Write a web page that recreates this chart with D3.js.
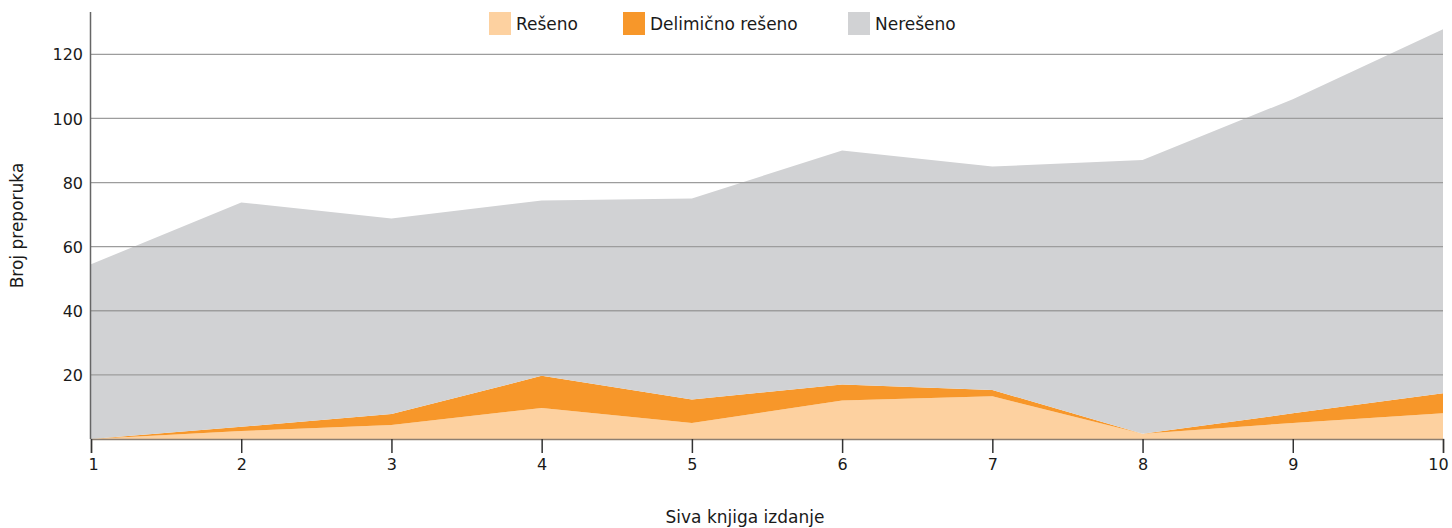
<!DOCTYPE html>
<html lang="sr">
<head>
  <meta charset="utf-8">
  <title>Broj preporuka</title>
  <script src="https://d3js.org/d3.v7.min.js" charset="utf-8"></script>
  <style>
    body { margin: 0; background: #fff; }
    text { font-family: "DejaVu Sans", sans-serif; fill: #1a1a1a; }
  </style>
</head>
<body>
  <svg id="chart"></svg>
  <script>
    // izdanja sive knjige
    const editions = [1, 2, 3, 4, 5, 6, 7, 8, 9, 10];
    const reseno = [0, 2.5, 4.4, 9.7, 5, 12, 13.3, 1.6, 5, 8];
    const delimicno = [0, 1.3, 3.4, 10, 7.3, 5, 2, 0, 3, 6.3];
    const nereseno = [54.5, 70, 61, 54.7, 62.7, 73, 69.7, 85.4, 98, 113.5];
    const yTicks = [20, 40, 60, 80, 100, 120];

    const seriesNames = ["Rešeno", "Delimično rešeno", "Nerešeno"];
    const colors = ["#fdd1a0", "#f7972a", "#d1d2d4"];

    const W = 1452, H = 528;
    const margin = { left: 91, right: 9, top: 12, bottom: 89 };

    const svg = d3.select("#chart").attr("width", W).attr("height", H);

    const x = d3.scaleLinear()
      .domain([1, 10])
      .range([margin.left, W - margin.right]);

    const y = d3.scaleLinear()
      .domain([0, 120])
      .range([H - margin.bottom, 54.3]);

    const table = editions.map((e, i) => ({
      ed: e,
      "Rešeno": reseno[i],
      "Delimično rešeno": delimicno[i],
      "Nerešeno": nereseno[i]
    }));

    const layers = d3.stack().keys(seriesNames)(table);

    const area = d3.area()
      .x(d => x(d.data.ed))
      .y0(d => y(d[0]))
      .y1(d => y(d[1]));

    svg.append("g")
      .selectAll("path")
      .data(layers)
      .join("path")
      .attr("fill", (d, i) => colors[i])
      .attr("d", area);

    // mreža
    svg.append("g")
      .selectAll("line")
      .data(yTicks)
      .join("line")
      .attr("x1", margin.left)
      .attr("x2", W - margin.right)
      .attr("y1", d => y(d))
      .attr("y2", d => y(d))
      .attr("stroke", "#9d9d9d")
      .attr("stroke-width", 1.3);

    // y osa
    const yAxis = svg.append("g")
      .attr("transform", `translate(${margin.left},0)`)
      .call(d3.axisLeft(y).tickValues(yTicks).tickSize(0).tickPadding(8));
    yAxis.select(".domain").remove();
    yAxis.selectAll("text").attr("font-size", 16).attr("dy", "0.35em");
    svg.append("line")
      .attr("x1", margin.left - 0.5).attr("x2", margin.left - 0.5)
      .attr("y1", margin.top).attr("y2", y(0))
      .attr("stroke", "#666").attr("stroke-width", 1.5);

    // x osa
    const xAxis = svg.append("g")
      .attr("transform", `translate(0,${y(0)})`)
      .call(d3.axisBottom(x).tickValues(editions).tickSize(14).tickPadding(6).tickFormat(d3.format("d")));
    xAxis.select(".domain").attr("stroke", "#8c7f72").attr("stroke-width", 1.5);
    xAxis.selectAll(".tick line").attr("stroke", "#333").attr("stroke-width", 1.5);
    xAxis.selectAll("text")
      .attr("font-size", 16)
      .attr("dx", d => d === 10 ? -5 : d === 1 ? 2 : 0);

    // naslovi osa
    svg.append("text")
      .attr("transform", `translate(23,${(margin.top + y(0)) / 2}) rotate(-90)`)
      .attr("text-anchor", "middle")
      .attr("font-size", 17)
      .text("Broj preporuka");

    svg.append("text")
      .attr("x", 745)
      .attr("y", 523)
      .attr("text-anchor", "middle")
      .attr("font-size", 17)
      .text("Siva knjiga izdanje");

    // legenda
    const legendX = [489, 623, 848];
    const legend = svg.append("g")
      .selectAll("g")
      .data(seriesNames)
      .join("g")
      .attr("transform", (d, i) => `translate(${legendX[i]},12)`);
    legend.append("rect")
      .attr("width", 22).attr("height", 23)
      .attr("fill", (d, i) => colors[i]);
    legend.append("text")
      .attr("x", 27).attr("y", 18)
      .attr("font-size", 17)
      .text(d => d);
  </script>
</body>
</html>
